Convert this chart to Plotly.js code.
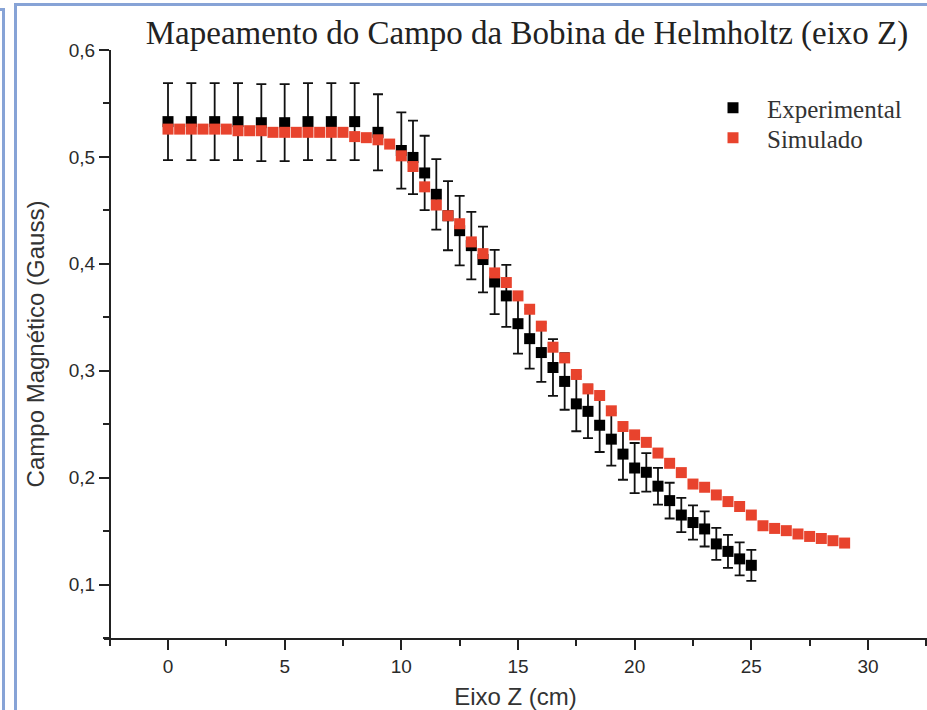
<!DOCTYPE html>
<html>
<head>
<meta charset="utf-8">
<script src="https://cdn.plot.ly/plotly-3.0.1.min.js"></script>
<style>
  html, body { margin: 0; padding: 0; background: #fff; }
  #chart { width: 927px; height: 710px; position: relative; }
  .frame { position: absolute; pointer-events: none; border-color: #87a3d6; border-style: solid; }
</style>
</head>
<body>
<div id="chart"></div>
<div class="frame" style="left:-20px; top:8px; width:22px; height:760px; border-width:3px 3px 0 0;"></div>
<div class="frame" style="left:14px; top:3px; width:1000px; height:800px; border-width:3px 0 0 3px;"></div>
<script>
// Experimental (measured) data
var expX = [0,1,2,3,4,5,6,7,8,9,
  10,10.5,11,11.5,12,12.5,13,13.5,14,14.5,
  15,15.5,16,16.5,17,17.5,18,18.5,19,19.5,
  20,20.5,21,21.5,22,22.5,23,23.5,24,24.5,25];
var expY = [0.533,0.533,0.533,0.533,0.532,0.532,0.533,0.533,0.533,0.523,
  0.506,0.4995,0.485,0.465,0.445,0.431,0.417,0.404,0.383,0.370,
  0.344,0.330,0.317,0.303,0.290,0.269,0.262,0.249,0.236,0.222,
  0.209,0.205,0.192,0.1785,0.165,0.158,0.152,0.138,0.131,0.124,0.118];
var expErr = [0.036,0.036,0.036,0.036,0.036,0.036,0.036,0.036,0.036,0.0356,
  0.0356,0.0344,0.0348,0.033,0.0323,0.0325,0.0315,0.0307,0.0301,0.029,
  0.028,0.028,0.0275,0.0265,0.0265,0.0256,0.025,0.025,0.0247,0.024,
  0.0234,0.018,0.0172,0.0167,0.016,0.016,0.0164,0.015,0.0155,0.0155,0.0145];

// Simulated data
var simX = [0,0.5,1,1.5,2,2.5,3,3.5,4,4.5,
  5,5.5,6,6.5,7,7.5,8,8.5,9,9.5,
  10,10.5,11,11.5,12,12.5,13,13.5,14,14.5,
  15,15.5,16,16.5,17,17.5,18,18.5,19,19.5,
  20,20.5,21,21.5,22,22.5,23,23.5,24,24.5,
  25,25.5,26,26.5,27,27.5,28,28.5,29];
var simY = [0.526,0.526,0.526,0.526,0.526,0.526,0.5245,0.5245,0.5245,0.523,
  0.523,0.523,0.523,0.523,0.523,0.523,0.519,0.518,0.516,0.512,
  0.501,0.491,0.472,0.455,0.445,0.4375,0.4205,0.4095,0.3915,0.3825,
  0.370,0.3575,0.3417,0.322,0.312,0.2965,0.283,0.2768,0.2625,0.2478,
  0.240,0.233,0.223,0.2134,0.2047,0.194,0.191,0.1838,0.1776,0.173,
  0.165,0.155,0.1525,0.1504,0.1473,0.145,0.1431,0.141,0.1388];

var xTicks = [0,5,10,15,20,25,30];
var yTicks = [0.1,0.2,0.3,0.4,0.5,0.6];
var yTickText = ['0,1','0,2','0,3','0,4','0,5','0,6'];

var traces = [
  {
    x: expX, y: expY, name: 'Experimental', type: 'scatter', mode: 'markers',
    legend: 'legend',
    marker: { symbol: 'square', size: 11, color: '#000' },
    error_y: { type: 'data', array: expErr, visible: true, color: '#111', thickness: 1.8, width: 5 }
  },
  {
    x: simX, y: simY, name: 'Simulado', type: 'scatter', mode: 'markers',
    legend: 'legend2',
    marker: { symbol: 'square', size: 11, color: '#e8432d' }
  }
];

var L = 104, R = 0, T = 50, B = 72;
var PW = 927 - L - R, PH = 710 - T - B;
var legendFont = { family: 'Liberation Serif, serif', size: 25, color: '#333' };
var pad = '\u00a0\u00a0\u00a0\u00a0\u00a0\u00a0\u00a0';
var layout = {
  width: 927, height: 710,
  margin: { l: L, r: R, t: T, b: B, pad: 0 },
  paper_bgcolor: '#fff', plot_bgcolor: '#fff',
  showlegend: true,
  title: {
    text: 'Mapeamento do Campo da Bobina de Helmholtz (eixo Z)',
    font: { family: 'Liberation Serif, serif', size: 33, color: '#222' },
    xref: 'container', yref: 'container', x: 527/927, xanchor: 'center', y: 1 - 32/710, yanchor: 'middle'
  },
  xaxis: {
    range: [-2.743, 32.53],
    tickvals: xTicks, ticktext: xTicks.map(String),
    ticks: 'outside', ticklen: 10, tickwidth: 2, tickcolor: '#222',
    minor: { dtick: 2.5, tick0: 0, ticks: 'outside', ticklen: 6, tickwidth: 2, tickcolor: '#222' },
    showline: true, linewidth: 2, linecolor: '#222',
    showgrid: false, zeroline: false,
    tickfont: { family: 'Liberation Sans, Arial, sans-serif', size: 19, color: '#2a2a2a' },
    title: { text: 'Eixo Z (cm)', font: { family: 'Liberation Sans, Arial, sans-serif', size: 24, color: '#333' }, standoff: 12 }
  },
  yaxis: {
    range: [0.05, 0.6],
    anchor: 'free', position: (110 - L) / PW,
    tickvals: yTicks, ticktext: yTickText,
    ticks: 'outside', ticklen: 10, tickwidth: 2, tickcolor: '#222',
    minor: { dtick: 0.05, tick0: 0, ticks: 'outside', ticklen: 6, tickwidth: 2, tickcolor: '#222' },
    showline: true, linewidth: 2, linecolor: '#222',
    showgrid: false, zeroline: false,
    tickfont: { family: 'Liberation Sans, Arial, sans-serif', size: 19, color: '#2a2a2a' },
    title: { text: pad + 'Campo Magnético (Gauss)', font: { family: 'Liberation Sans, Arial, sans-serif', size: 24, color: '#333' }, standoff: 16 }
  },
  legend: {
    x: (699 - L) / PW, xanchor: 'left',
    y: (638 - 85) / PH, yanchor: 'top',
    bgcolor: 'rgba(0,0,0,0)', borderwidth: 0,
    font: legendFont, itemwidth: 58
  },
  legend2: {
    x: (699 - L) / PW, xanchor: 'left',
    y: (638 - 115) / PH, yanchor: 'top',
    bgcolor: 'rgba(0,0,0,0)', borderwidth: 0,
    font: legendFont, itemwidth: 58
  }
};

Plotly.newPlot('chart', traces, layout, { displayModeBar: false, staticPlot: true });
</script>
</body>
</html>
